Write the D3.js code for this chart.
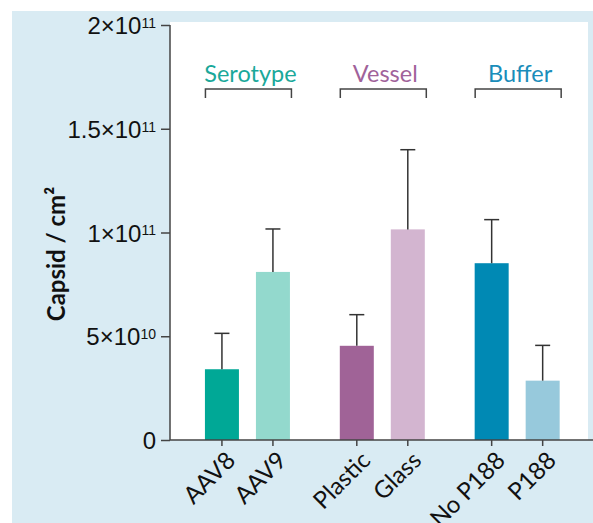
<!DOCTYPE html>
<html>
<head>
<meta charset="utf-8">
<script src="https://cdn.jsdelivr.net/npm/d3@7"></script>
<style>
  html, body { margin: 0; padding: 0; background: #ffffff; }
  svg { display: block; font-family: Lato, "Open Sans", sans-serif; }
</style>
</head>
<body>
<svg id="chart" width="593" height="523"></svg>
<script>
// ---- Data ----
const groups = ["Serotype", "Vessel", "Buffer"];
const groupColors = ["#1aa89a", "#a0629a", "#1a8dba"];
const categories = ["AAV8", "AAV9", "Plastic", "Glass", "No P188", "P188"];
const categoryGroup = ["Serotype", "Serotype", "Vessel", "Vessel", "Buffer", "Buffer"];
const means = [3.41e10, 8.10e10, 4.54e10, 1.015e11, 8.52e10, 2.86e10];
const errors = [1.73e10, 2.07e10, 1.50e10, 3.84e10, 2.10e10, 1.70e10];
const barColors = ["#00a896", "#93d9cd", "#a06397", "#d3b5d0", "#0089b4", "#97c9dc"];
const yTicks = [0, 5e10, 1e11, 1.5e11, 2e11];
const yTickLabels = [["0", ""], ["5×10", "10"], ["1×10", "11"], ["1.5×10", "11"], ["2×10", "11"]];

const svg = d3.select("#chart");

// background panel
svg.append("rect").attr("x", 12).attr("y", 11).attr("width", 581).attr("height", 512).attr("fill", "#d9ebf3");
// plot area
const axisX = 170, axisY = 440, topY = 22, rightX = 588;
svg.append("rect").attr("x", axisX).attr("y", topY).attr("width", rightX - axisX).attr("height", axisY - topY).attr("fill", "#ffffff");

// scales
const y = d3.scaleLinear().domain([0, 2e11]).range([440, 25]);
const xGroup = d3.scaleBand().domain(groups).range([180, 584.6]).padding(0);
const gw = xGroup.bandwidth();
const xInner = d3.scaleBand().domain([0, 1]).range([gw / 2 - 51, gw / 2 + 51]).paddingInner(1 / 3).paddingOuter(1 / 6);

const data = categories.map((c, i) => {
  const g = categoryGroup[i];
  const idx = categoryGroup.slice(0, i).filter(d => d === g).length;
  return { cat: c, group: g, idx, mean: means[i], err: errors[i], color: barColors[i] };
});
const xPos = d => xGroup(d.group) + xInner(d.idx);
const bw = xInner.bandwidth();

// bars
svg.append("g").selectAll("rect").data(data).join("rect")
  .attr("x", d => xPos(d))
  .attr("y", d => y(d.mean))
  .attr("width", bw)
  .attr("height", d => y(0) - y(d.mean))
  .attr("fill", d => d.color);

// error bars
const eg = svg.append("g").attr("stroke", "#333").attr("stroke-width", 1.5);
data.forEach(d => {
  const cx = xPos(d) + bw / 2;
  eg.append("line").attr("x1", cx).attr("x2", cx).attr("y1", y(d.mean)).attr("y2", y(d.mean + d.err));
  eg.append("line").attr("x1", cx - 7.5).attr("x2", cx + 7.5).attr("y1", y(d.mean + d.err)).attr("y2", y(d.mean + d.err));
});

// y axis
const yAxis = svg.append("g").attr("transform", `translate(${axisX},0)`)
  .call(d3.axisLeft(y).tickValues(yTicks).tickSize(9).tickSizeOuter(0).tickFormat(() => ""));
yAxis.select(".domain").attr("d", `M0,${y(2e11)}H0V${axisY}`);
yAxis.selectAll("path, line").attr("stroke", "#444").attr("stroke-width", 1.5);
yAxis.selectAll(".tick").each(function(v, i) {
  const t = d3.select(this).append("text")
    .attr("x", -14).attr("y", 0).attr("dy", "0.36em")
    .attr("text-anchor", "end").attr("fill", "#111")
    .style("font-size", "24px");
  const lab = yTickLabels[i];
  if (lab[1]) {
    t.append("tspan").text(lab[0]);
    t.append("tspan").attr("dy", "-0.45em").style("font-size", "14px").text(lab[1]);
  } else {
    t.text(lab[0]);
  }
});

// x axis
const xAxisG = svg.append("g").attr("transform", `translate(0,${axisY})`);
xAxisG.append("line").attr("x1", axisX).attr("x2", 593).attr("y1", 0).attr("y2", 0).attr("stroke", "#444").attr("stroke-width", 1.5);
data.forEach(d => {
  const cx = xPos(d) + bw / 2;
  xAxisG.append("line").attr("x1", cx).attr("x2", cx).attr("y1", 0).attr("y2", 6).attr("stroke", "#444").attr("stroke-width", 1.5);
  xAxisG.append("text")
    .attr("transform", `translate(${cx + 9},${16}) rotate(-45)`)
    .attr("text-anchor", "end").attr("dy", "0.35em")
    .attr("fill", "#111").style("font-size", "24px")
    .text(d.cat);
});

// y axis title
svg.append("text")
  .attr("transform", `translate(65,254) rotate(-90)`)
  .attr("text-anchor", "middle")
  .style("font-size", "24px").style("font-weight", "bold").attr("fill", "#111")
  .text("Capsid / cm²");

// group labels and brackets
groups.forEach((g, i) => {
  const cx = xGroup(g) + gw / 2;
  svg.append("text").attr("x", cx + 3).attr("y", 82).attr("text-anchor", "middle")
    .attr("fill", groupColors[i]).style("font-size", "23.5px").text(g);
  svg.append("path")
    .attr("d", `M${cx - 42},98V89H${cx + 44}V98`)
    .attr("fill", "none").attr("stroke", "#444").attr("stroke-width", 1.5);
});
</script>
</body>
</html>
